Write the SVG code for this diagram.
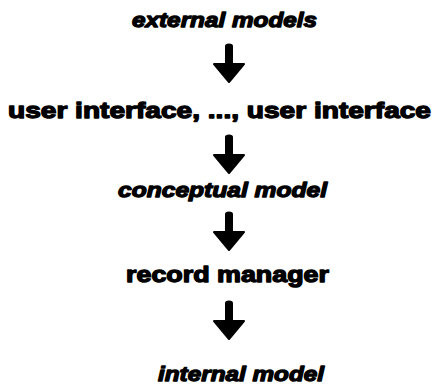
<svg xmlns="http://www.w3.org/2000/svg" xmlns:xlink="http://www.w3.org/1999/xlink" width="439" height="385" viewBox="0 0 439 385">
  <style>
    .bg { fill: #ffffff; }
    .lbl { font-family: "Liberation Sans", Arial, sans-serif; font-weight: bold; fill: #000000; stroke: #000000; stroke-width: 1.3; stroke-linejoin: round; }
    .it { font-style: italic; font-size: 21px; }
    .rm { font-size: 22px; }
    .arrow { fill: #000000; stroke: #000000; stroke-width: 2; stroke-linejoin: round; stroke-linecap: round; }
  </style>
  <defs>
    <path id="down-arrow" d="M -3 0 Q -3 -1.5 0 -1.5 Q 3 -1.5 3 0 L 3 18 L 15 18 L 0 36 L -15 18 L -3 18 Z"/>
  </defs>
  <rect class="bg" x="0" y="0" width="439" height="385"/>

  <g id="connectors">
    <use class="arrow" xlink:href="#down-arrow" href="#down-arrow" transform="translate(229,46)"/>
    <use class="arrow" xlink:href="#down-arrow" href="#down-arrow" transform="translate(229,137)"/>
    <use class="arrow" xlink:href="#down-arrow" href="#down-arrow" transform="translate(229,214)"/>
    <use class="arrow" xlink:href="#down-arrow" href="#down-arrow" transform="translate(229,303)"/>
  </g>

  <g id="external-models">
    <text class="lbl it" x="132" y="27" textLength="185" lengthAdjust="spacingAndGlyphs">external models</text>
  </g>
  <g id="user-interface">
    <text class="lbl rm" x="8" y="118" textLength="423" lengthAdjust="spacingAndGlyphs">user interface, ..., user interface</text>
  </g>
  <g id="conceptual-model">
    <text class="lbl it" x="118" y="197" textLength="209" lengthAdjust="spacingAndGlyphs">conceptual model</text>
  </g>
  <g id="record-manager">
    <text class="lbl rm" x="126" y="282" textLength="203" lengthAdjust="spacingAndGlyphs">record manager</text>
  </g>
  <g id="internal-model">
    <text class="lbl it" x="158" y="381" textLength="166" lengthAdjust="spacingAndGlyphs">internal model</text>
  </g>
</svg>
